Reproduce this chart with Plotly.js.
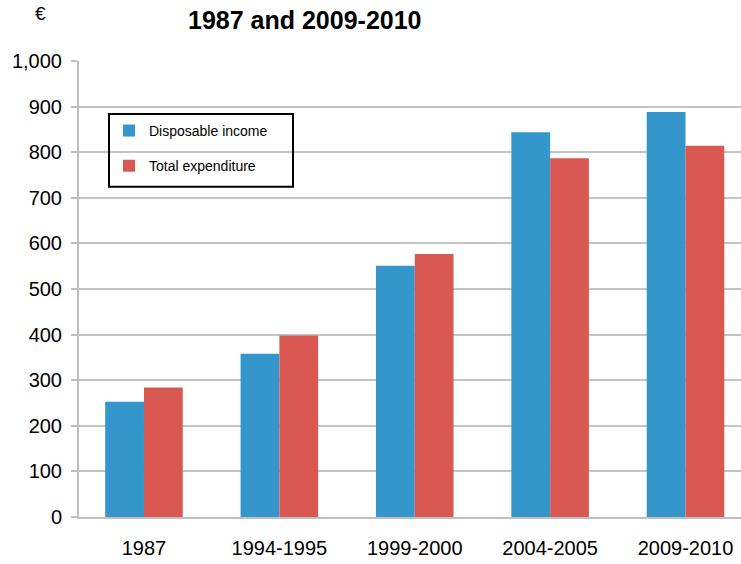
<!DOCTYPE html>
<html>
<head>
<meta charset="utf-8">
<script src="https://cdn.plot.ly/plotly-3.0.1.min.js"></script>
<style>html,body{margin:0;padding:0;background:#fff;}#chart{width:741px;height:564px;}</style>
</head>
<body>
<div id="chart"></div>
<script>
const categories = ["1987", "1994-1995", "1999-2000", "2004-2005", "2009-2010"];
const disposableIncome = [253, 358, 551, 844, 888];
const totalExpenditure = [284, 398, 577, 787, 814];
const yTickValues = [0, 100, 200, 300, 400, 500, 600, 700, 800, 900, 1000];
const yTickLabels = ["0", "100", "200", "300", "400", "500", "600", "700", "800", "900", "1,000"];

const font = "Liberation Sans, Arial, sans-serif";
const L = 79, T = 61, W = 662, H = 456.5, B = 46.5;
const px = v => (v - L) / W;
const py = v => (564 - B - v) / H;

const traces = [
  {type: "bar", name: "Disposable income", x: categories, y: disposableIncome,
   marker: {color: "#3596cc"}, legendgroup: "a"},
  {type: "bar", name: "Total expenditure", x: categories, y: totalExpenditure,
   marker: {color: "#d95852"}, legendgroup: "b"}
];

const layout = {
  width: 741, height: 564,
  margin: {l: L, r: 0, t: T, b: B},
  paper_bgcolor: "#fff", plot_bgcolor: "#fff",
  barmode: "group", bargap: 0.427, bargroupgap: 0,
  font: {family: font, color: "#000"},
  showlegend: true,
  legend: {
    x: px(109), y: py(115), xanchor: "left", yanchor: "top",
    bgcolor: "rgba(0,0,0,0)", borderwidth: 0,
    font: {size: 14, family: font, color: "#000"},
    tracegroupgap: 14, itemwidth: 30
  },
  xaxis: {
    type: "category", range: [-0.48, 4.41],
    showgrid: false, showline: true, linecolor: "#bfbfbf", linewidth: 2,
    ticks: "", ticklabelstandoff: 12,
    tickfont: {size: 20, family: font, color: "#000"},
    fixedrange: true
  },
  yaxis: {
    range: [0, 1000], tickvals: yTickValues, ticktext: yTickLabels,
    showgrid: true, gridcolor: "#c4c4c4", gridwidth: 2,
    showline: true, linecolor: "#bfbfbf", linewidth: 2,
    ticks: "outside", ticklen: 6, tickcolor: "#bfbfbf", tickwidth: 2,
    ticklabelstandoff: 5,
    tickfont: {size: 20, family: font, color: "#000"},
    zeroline: false, fixedrange: true
  },
  shapes: [
    {type: "rect", xref: "paper", yref: "paper",
     x0: px(109), x1: px(293), y0: py(187), y1: py(114),
     line: {color: "#000", width: 2}, fillcolor: "rgba(0,0,0,0)"}
  ],
  annotations: [
    {text: "<b>1987 and 2009-2010</b>", xref: "paper", yref: "paper",
     x: px(304.5), y: py(19.5), xanchor: "center", yanchor: "middle",
     showarrow: false, font: {size: 25, family: font, color: "#000"}},
    {text: "€", xref: "paper", yref: "paper",
     x: px(40), y: py(13), xanchor: "center", yanchor: "middle",
     showarrow: false, font: {size: 19, family: font, color: "#000"}}
  ]
};

Plotly.newPlot("chart", traces, layout, {displayModeBar: false, staticPlot: true});
</script>
</body>
</html>
